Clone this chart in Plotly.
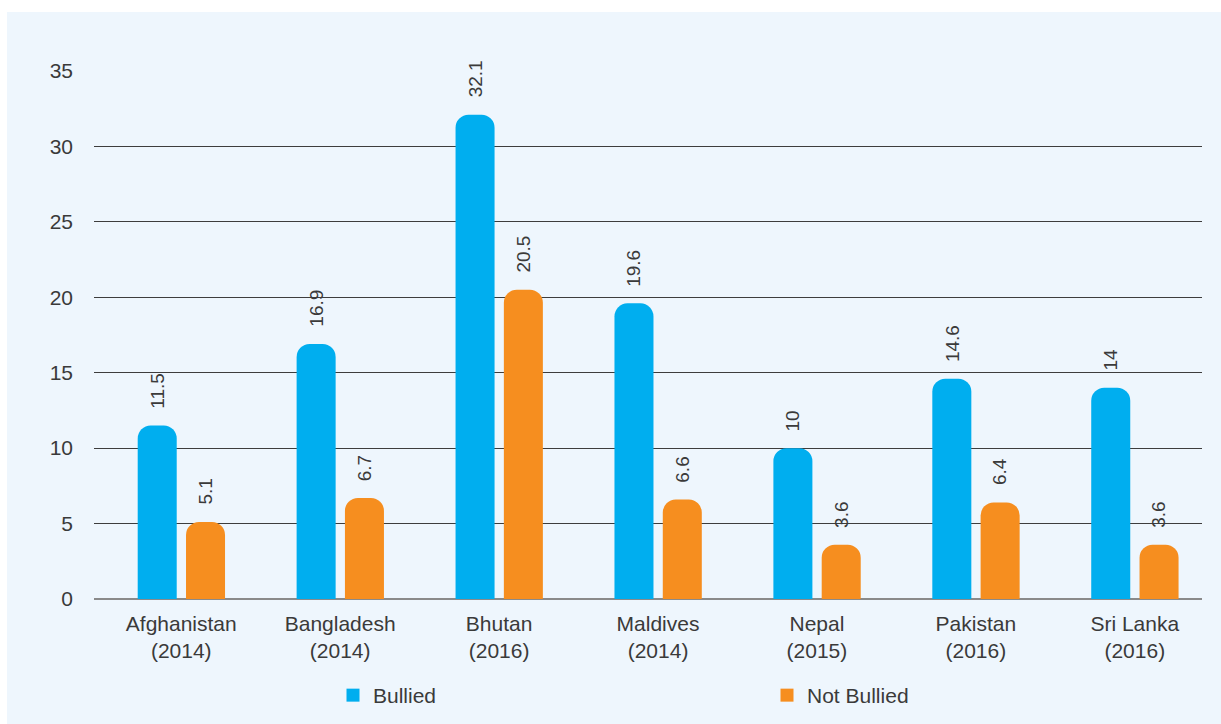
import plotly.graph_objects as go

# Share of students (%) by bullying status, South Asia survey rounds
countries = ["Afghanistan", "Bangladesh", "Bhutan", "Maldives", "Nepal", "Pakistan", "Sri Lanka"]
years = ["2014", "2014", "2016", "2014", "2015", "2016", "2016"]
bullied = [11.5, 16.9, 32.1, 19.6, 10, 14.6, 14]
not_bullied = [5.1, 6.7, 20.5, 6.6, 3.6, 6.4, 3.6]
y_ticks = [0, 5, 10, 15, 20, 25, 30, 35]

BLUE = "#00AEEF"
ORANGE = "#F68E1F"
TEXT = "#3a3a3a"
FONT = "Liberation Sans"

categories = [f"{c}<br>({y})" for c, y in zip(countries, years)]

BAR_W = 0.2455
OFFSETS = {"Bullied": -0.274, "Not Bullied": 0.030}

fig = go.Figure()
for name, vals, color in [("Bullied", bullied, BLUE), ("Not Bullied", not_bullied, ORANGE)]:
    fig.add_trace(go.Bar(
        x=categories, y=vals, name=name, showlegend=False,
        marker=dict(color=color, line=dict(width=0)),
        width=BAR_W, offset=OFFSETS[name],
    ))
    # legend entry with a plain square swatch
    fig.add_trace(go.Scatter(
        x=[None], y=[None], mode="markers", name=name,
        marker=dict(symbol="square", size=13, color=color, line=dict(width=0)),
    ))
    # rotated value labels above each bar
    for i, v in enumerate(vals):
        fig.add_annotation(
            x=i + OFFSETS[name] + BAR_W / 2, y=v, xref="x", yref="y",
            text=f"{v:g}", textangle=-90, showarrow=False,
            xanchor="center", yanchor="bottom", yshift=15,
            font=dict(family=FONT, size=19, color=TEXT),
        )

# light blue panel behind the chart
fig.add_shape(type="rect", xref="paper", yref="paper",
              x0=(7 - 94) / 1108, x1=(1221 - 94) / 1108,
              y0=(599 - 724) / 528, y1=(599 - 12) / 528,
              fillcolor="#EEF6FD", line=dict(width=0), layer="below")

fig.update_layout(
    width=1221, height=724, autosize=False,
    margin=dict(l=94, r=19, t=71, b=125),
    paper_bgcolor="white", plot_bgcolor="rgba(0,0,0,0)",
    barmode="overlay", barcornerradius=13,
    font=dict(family=FONT, size=21, color=TEXT),
    showlegend=True,
    legend=dict(orientation="h", x=(333 - 94) / 1108, xanchor="left",
                xref="paper", yref="container",
                y=(724 - 675) / 724, yanchor="top",
                bgcolor="rgba(0,0,0,0)", entrywidth=389,
                font=dict(family=FONT, size=21, color=TEXT)),
    xaxis=dict(type="category", range=[-0.549, 6.423], showgrid=False,
               showline=False, ticks="", ticklabelstandoff=10,
               tickfont=dict(family=FONT, size=21, color=TEXT)),
    yaxis=dict(range=[0, 35], tickvals=y_ticks, showgrid=True,
               gridcolor="#3d3d3d", gridwidth=1,
               zeroline=True, zerolinecolor="#8a8a8a", zerolinewidth=2,
               showline=False, ticks="", ticklabelstandoff=20,
               tickfont=dict(family=FONT, size=21, color=TEXT)),
)

fig.write_html("out.html")
